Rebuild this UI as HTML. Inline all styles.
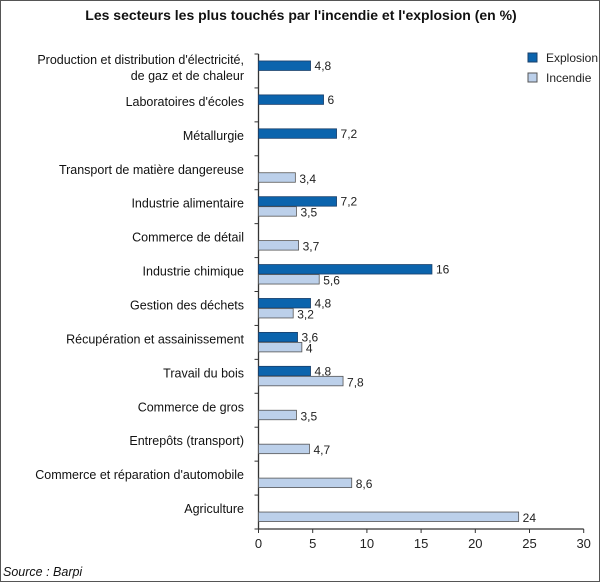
<!DOCTYPE html>
<html><head><meta charset="utf-8">
<style>
html,body{margin:0;padding:0;background:#fff;}
#wrap{position:relative;width:598px;height:580px;border:1px solid #555;overflow:hidden;font-family:"Liberation Sans",sans-serif;}
svg text{font-family:"Liberation Sans",sans-serif;}
</style></head>
<body>
<div id="wrap">
<svg id="chart" width="598" height="580">
<text x="300" y="19" text-anchor="middle" font-size="14" font-weight="bold" fill="#111">Les secteurs les plus touchés par l'incendie et l'explosion (en %)</text>
<text x="2" y="575" font-size="12.5" font-style="italic" fill="#111">Source : Barpi</text>
<g>
<rect x="527" y="52" width="9" height="9" fill="#0b64ad" stroke="#1a3f6a"/>
<text x="545" y="61" font-size="12" fill="#222">Explosion</text>
<rect x="527" y="72" width="9" height="9" fill="#bcd0ea" stroke="#555"/>
<text x="545" y="81" font-size="12" fill="#222">Incendie</text>
</g>
</svg>
</div>
<script>
const categories=[["Production et distribution d'électricité,","de gaz et de chaleur"],["Laboratoires d'écoles"],["Métallurgie"],["Transport de matière dangereuse"],["Industrie alimentaire"],["Commerce de détail"],["Industrie chimique"],["Gestion des déchets"],["Récupération et assainissement"],["Travail du bois"],["Commerce de gros"],["Entrepôts (transport)"],["Commerce et réparation d'automobile"],["Agriculture"]];
const explosion=[4.8,6,7.2,null,7.2,null,16,4.8,3.6,4.8,null,null,null,null];
const incendie=[null,null,null,3.4,3.5,3.7,5.6,3.2,4,7.8,3.5,4.7,8.6,24];
const ticks=[0,5,10,15,20,25,30];

const svg=document.getElementById('chart');
const NS='http://www.w3.org/2000/svg';
const x0=257.5,x1=582.7,xmax=30,y0=53,y1=528;
const band=(y1-y0)/categories.length;
const xs=v=>x0+(v/xmax)*(x1-x0);
const yc=i=>y0+band*(i+0.5);
function mk(t,a){const e=document.createElementNS(NS,t);for(const k in a)e.setAttribute(k,a[k]);svg.appendChild(e);return e;}
const fmt=v=>String(v).replace('.',',');

const ax=mk('line',{x1:x0,y1:y0,x2:x0,y2:y1,stroke:'#333','stroke-width':1.3});


const bx=mk('line',{x1:x0,y1:y1,x2:x1,y2:y1,stroke:'#333','stroke-width':1.3});


for(let k=0;k<=categories.length;k++){
  const t=mk('line',{x1:x0-4,y1:y0+band*k,x2:x0,y2:y0+band*k,stroke:'#333'});
  
  
}
ticks.forEach(v=>{
  const t=mk('line',{x1:xs(v),y1:y1,x2:xs(v),y2:y1+4,stroke:'#333'});
  
  
  const l=mk('text',{x:xs(v),y:y1+19,'text-anchor':'middle','font-size':13,fill:'#222'});
  l.textContent=v;
  
  
});
categories.forEach((c,i)=>{
  const cy=yc(i);
  const t=mk('text',{x:243,'text-anchor':'end','font-size':12.5,fill:'#111'});
  
  
  c.forEach((line,j)=>{
    const ts=document.createElementNS(NS,'tspan');
    ts.setAttribute('x',243);
    ts.setAttribute('y',cy-3+(j-(c.length-1)/2)*16+4);
    ts.textContent=line;t.appendChild(ts);
  });
  if(explosion[i]!=null){
    const v=explosion[i];
    const r=mk('rect',{x:x0,y:cy-10,width:xs(v)-x0,height:9.5,fill:'#0b64ad',stroke:'#1a3f6a','stroke-width':0.8});
    
    
    const l=mk('text',{x:xs(v)+4,y:cy-1,'font-size':12,fill:'#222'});
    l.textContent=fmt(v);
    
    
  }
  if(incendie[i]!=null){
    const v=incendie[i];
    const r=mk('rect',{x:x0,y:cy,width:xs(v)-x0,height:9.5,fill:'#bcd0ea',stroke:'#555','stroke-width':0.8});
    
    
    const l=mk('text',{x:xs(v)+4,y:cy+10,'font-size':12,fill:'#222'});
    l.textContent=fmt(v);
    
    
  }
});
</script>
</body></html>
